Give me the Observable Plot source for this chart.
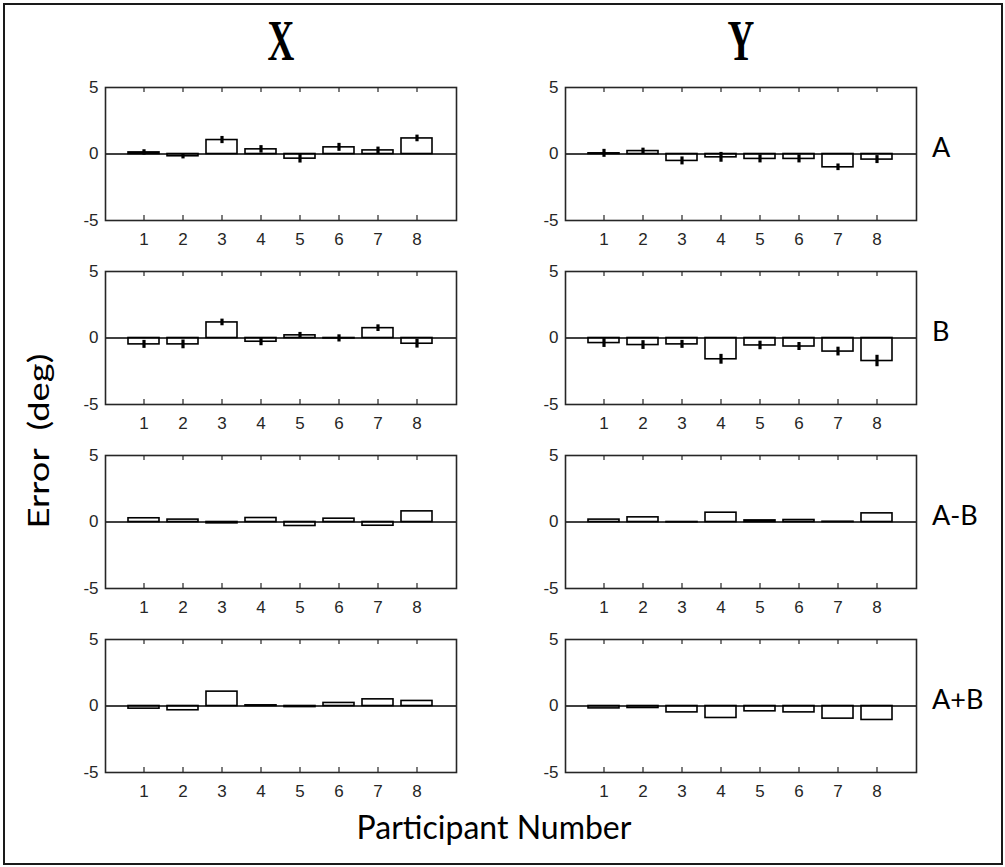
<!DOCTYPE html>
<html>
<head>
<meta charset="utf-8">
<script src="https://cdn.jsdelivr.net/npm/d3@7"></script>
<script src="https://cdn.jsdelivr.net/npm/@observablehq/plot@0.6"></script>
<style>
  html, body { margin: 0; padding: 0; background: #fff; }
  #page { position: relative; width: 1005px; height: 867px; overflow: hidden; }
  #border { position: absolute; left: 3px; top: 3px; width: 996px; height: 858px; border: 2px solid #1a1a1a; }
  .panel { position: absolute; }
  .title { position: absolute; font-family: "Liberation Serif", serif; font-weight: bold; font-size: 58px; line-height: 1; transform: translateX(-50%) scaleX(0.64); transform-origin: center; color: #000; }
  .rowlab { position: absolute; font-family: Lato, sans-serif; font-size: 27px; line-height: 1; color: #000; transform: translateY(-50%); }
  #ylab { position: absolute; font-family: Lato, sans-serif; font-size: 28px; white-space: pre; transform: translate(-50%, -50%) rotate(-90deg) scale(1.3, 1); color: #000; }
  #xlab { position: absolute; font-family: Lato, sans-serif; font-size: 32px; white-space: pre; transform: translateX(-50%); color: #000; }
</style>
</head>
<body>
<div id="page"><div id="border"></div></div>
<script>
// Participants and axis ticks
const participants = [1, 2, 3, 4, 5, 6, 7, 8];
const yTicks = [-5, 0, 5];
const yTickLabels = ["-5", "0", "5"];

// Column and row headings
const columns = ["X", "Y"];
const rows = ["A", "B", "A-B", "A+B"];

// Mean error (deg) per participant, and standard error where shown
const xA    = [0.12, -0.17, 1.05, 0.35, -0.35, 0.50, 0.27, 1.17];
const xAErr = [0.20, 0.20, 0.27, 0.28, 0.33, 0.30, 0.25, 0.25];
const yA    = [0.05, 0.22, -0.52, -0.25, -0.37, -0.37, -1.00, -0.42];
const yAErr = [0.30, 0.22, 0.30, 0.37, 0.30, 0.30, 0.25, 0.30];

const xB    = [-0.48, -0.48, 1.17, -0.28, 0.20, -0.03, 0.74, -0.43];
const xBErr = [0.30, 0.33, 0.25, 0.30, 0.22, 0.27, 0.25, 0.33];
const yB    = [-0.38, -0.53, -0.48, -1.60, -0.56, -0.64, -1.02, -1.73];
const yBErr = [0.33, 0.33, 0.30, 0.37, 0.32, 0.30, 0.33, 0.43];

const xAminusB = [0.28, 0.18, -0.10, 0.30, -0.30, 0.25, -0.28, 0.80];
const yAminusB = [0.18, 0.35, -0.02, 0.70, 0.12, 0.15, 0.02, 0.65];

const xAplusB = [-0.20, -0.32, 1.08, 0.05, -0.08, 0.23, 0.50, 0.38];
const yAplusB = [-0.18, -0.15, -0.48, -0.90, -0.40, -0.48, -0.95, -1.05];

const series = [
  [[xA, xAErr], [yA, yAErr]],
  [[xB, xBErr], [yB, yBErr]],
  [[xAminusB, null], [yAminusB, null]],
  [[xAplusB, null], [yAplusB, null]]
];

// Layout of the panel grid (frame position of each axes box)
const colLeft = [105, 565];
const rowTop = [87, 271, 455, 639];
const frameW = 351, frameH = 133;
const mL = 44, mR = 6, mT = 6, mB = 32;
const tickLen = 5;

const page = document.getElementById("page");

function panel(values, errs) {
  const data = participants.map((p, i) => ({p, v: values[i], e: errs ? errs[i] : null}));
  const tickUnits = tickLen * 10 / frameH;
  const marks = [
    Plot.barY(data, {x: "p", y: "v", fill: "white", stroke: "black", strokeWidth: 1.6}),
    Plot.ruleY([0], {stroke: "black", strokeWidth: 1.4}),
    Plot.ruleX(participants, {x: d => d, y1: -5, y2: -5 + tickUnits, stroke: "#262626", strokeWidth: 1.2}),
    Plot.ruleX(participants, {x: d => d, y1: 5, y2: 5 - tickUnits, stroke: "#262626", strokeWidth: 1.2}),
    Plot.frame({stroke: "#262626", strokeWidth: 1.6}),
    Plot.axisX(participants, {anchor: "bottom", tickSize: 0, tickPadding: 12, fontSize: 17, fill: "#262626", label: null}),
    Plot.axisY(yTicks, {anchor: "left", tickSize: 0, tickPadding: 7, fontSize: 17, fill: "#262626", label: null,
      tickFormat: d => yTickLabels[yTicks.indexOf(d)]})
  ];
  if (errs) {
    marks.push(Plot.ruleX(data, {x: "p", y1: d => d.v - d.e, y2: d => d.v + d.e, stroke: "black", strokeWidth: 3.2}));
  }
  return Plot.plot({
    width: frameW + mL + mR,
    height: frameH + mT + mB,
    marginLeft: mL, marginRight: mR, marginTop: mT, marginBottom: mB,
    style: {fontFamily: "'Liberation Sans', Arial, sans-serif", background: "transparent", overflow: "visible"},
    x: {type: "band", domain: participants, paddingInner: 0.2, paddingOuter: 0.6, axis: null, label: null},
    y: {domain: [-5, 5], axis: null, label: null},
    marks
  });
}

series.forEach((row, r) => {
  row.forEach(([vals, errs], c) => {
    const svg = panel(vals, errs);
    const wrap = document.createElement("div");
    wrap.className = "panel";
    wrap.style.left = (colLeft[c] - mL) + "px";
    wrap.style.top = (rowTop[r] - mT) + "px";
    wrap.appendChild(svg);
    page.appendChild(wrap);
  });
  const lab = document.createElement("div");
  lab.className = "rowlab";
  lab.textContent = rows[r];
  lab.style.left = (colLeft[1] + frameW + 16) + "px";
  lab.style.top = (rowTop[r] + frameH / 2 - 8) + "px";
  page.appendChild(lab);
});

columns.forEach((t, c) => {
  const el = document.createElement("div");
  el.className = "title";
  el.textContent = t;
  el.style.left = (colLeft[c] + frameW / 2) + "px";
  el.style.top = "12px";
  page.appendChild(el);
});

const ylab = document.createElement("div");
ylab.id = "ylab";
ylab.textContent = "Error  (deg)";
ylab.style.left = "38px";
ylab.style.top = "441px";
page.appendChild(ylab);

const xlab = document.createElement("div");
xlab.id = "xlab";
xlab.textContent = "Participant Number";
xlab.style.left = "494px";
xlab.style.top = "807px";
page.appendChild(xlab);
</script>
</body>
</html>
